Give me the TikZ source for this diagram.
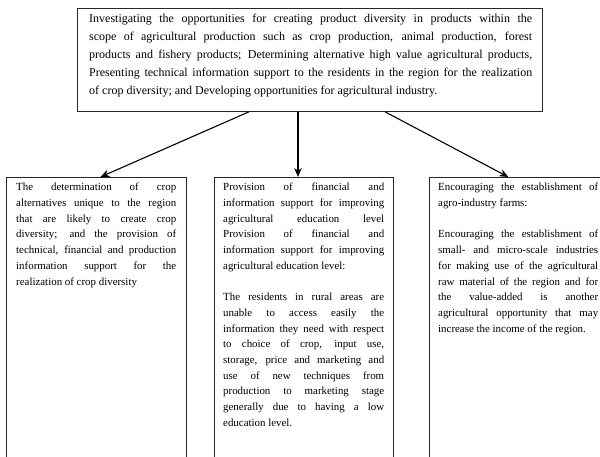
\documentclass[tikz,border=0pt]{standalone}
\usepackage{fontspec}
\setmainfont{Liberation Serif}
\usetikzlibrary{arrows.meta,calc}
\newcommand\JL[2]{\makebox[#1][s]{#2}}
\newcommand\LL[2]{\makebox[#1][l]{#2}}
\begin{document}
\begin{tikzpicture}[x=1pt,y=-1pt,
  boxnode/.style={draw=black!85, line width=0.8pt, inner sep=0pt, anchor=north west, rectangle},
  toptxt/.style={inner sep=0pt, anchor=north west, align=left, font=\fontsize{12}{18}\selectfont},
  subtxt/.style={inner sep=0pt, anchor=north west, align=left, font=\fontsize{10.9}{15.7}\selectfont},
  arr/.style={-{Stealth[length=9pt,width=7.5pt]}, line width=1.1pt, black}]
\useasboundingbox (0,0) rectangle (600,456);
\clip (0,0) rectangle (600,456);
% top box
\node[boxnode, minimum width=465pt, minimum height=103pt] (top) at (77,8) {};
\node[toptxt] (toptext) at (89,14) {%
\JL{443pt}{Investigating the opportunities for creating product diversity in products within the}\\
\JL{443pt}{scope of agricultural production such as crop production, animal production, forest}\\
\JL{443pt}{products and fishery products; Determining alternative high value agricultural products,}\\
\JL{443pt}{Presenting technical information support to the residents in the region for the realization}\\
\LL{443pt}{of crop diversity; and Developing opportunities for agricultural industry.}};
% bottom boxes
\node[boxnode, minimum width=180pt, minimum height=300pt] (lb) at (6,177) {};
\node[boxnode, minimum width=179pt, minimum height=300pt] (mb) at (214,177) {};
\node[boxnode, minimum width=180pt, minimum height=300pt] (rb) at (429,177) {};
\node[subtxt] (lt) at (16,183) {%
\JL{160pt}{The determination of crop}\\
\JL{160pt}{alternatives unique to the region}\\
\JL{160pt}{that are likely to create crop}\\
\JL{160pt}{diversity; and the provision of}\\
\JL{160pt}{technical, financial and production}\\
\JL{160pt}{information support for the}\\
\LL{160pt}{realization of crop diversity}};
\node[subtxt] (mt) at (223,183) {%
\JL{161pt}{Provision of financial and}\\
\JL{161pt}{information support for improving}\\
\JL{161pt}{agricultural education level}\\
\JL{161pt}{Provision of financial and}\\
\JL{161pt}{information support for improving}\\
\LL{161pt}{agricultural education level:}\\[15.7pt]
\JL{161pt}{The residents in rural areas are}\\
\JL{161pt}{unable to access easily the}\\
\JL{161pt}{information they need with respect}\\
\JL{161pt}{to choice of crop, input use,}\\
\JL{161pt}{storage, price and marketing and}\\
\JL{161pt}{use of new techniques from}\\
\JL{161pt}{production to marketing stage}\\
\JL{161pt}{generally due to having a low}\\
\LL{161pt}{education level.}};
\node[subtxt] (rt) at (438,183) {%
\JL{160pt}{Encouraging the establishment of}\\
\LL{160pt}{agro-industry farms:}\\[15.7pt]
\JL{160pt}{Encouraging the establishment of}\\
\JL{160pt}{small- and micro-scale industries}\\
\JL{160pt}{for making use of the agricultural}\\
\JL{160pt}{raw material of the region and for}\\
\JL{160pt}{the value-added is another}\\
\JL{160pt}{agricultural opportunity that may}\\
\LL{160pt}{increase the income of the region.}};
% arrows
\coordinate (s1) at ($(top.south west)+(172,0)$);
\coordinate (s2) at ($(top.south west)+(221,0)$);
\coordinate (s3) at ($(top.south west)+(308,0)$);
\draw[arr] (s1) -- ($(lb.north)+(4,0)$);
\draw[arr] (s2) -- (s2 |- mb.north);
\draw[arr] (s3) -- ($(rb.north)+(-11,0)$);
\end{tikzpicture}
\end{document}
